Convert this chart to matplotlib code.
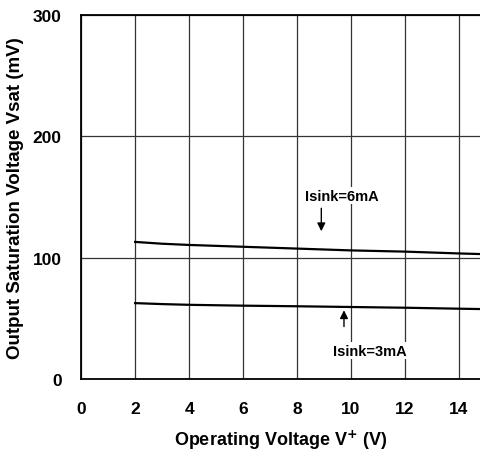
import matplotlib.pyplot as plt

plt.rcParams['font.family'] = ['Liberation Sans', 'DejaVu Sans']
plt.rcParams['font.weight'] = 'bold'

# curve data
v_supply = [2, 3, 4, 6, 8, 10, 12, 14, 14.8]
vsat_6ma = [113, 111.5, 110.5, 109, 107.5, 106, 105, 103.5, 103]
vsat_3ma = [62.6, 61.8, 61.2, 60.5, 60, 59.4, 58.8, 58, 57.7]

x_ticks = [0, 2, 4, 6, 8, 10, 12, 14]
y_ticks = [0, 100, 200, 300]

fig = plt.figure(figsize=(4.8, 4.52), dpi=100)
ax = fig.add_axes([0.169, 0.159, 0.831, 0.806])

ax.plot(v_supply, vsat_6ma, color='black', lw=1.6, zorder=3)
ax.plot(v_supply, vsat_3ma, color='black', lw=1.6, zorder=3)

ax.set_xlim(0, 14.78)
ax.set_ylim(0, 300)
ax.set_xticks(x_ticks)
ax.set_yticks(y_ticks)
ax.grid(True, color='#333333', lw=0.9)
ax.tick_params(length=0, labelsize=12.5)
ax.tick_params(axis='x', pad=16)
ax.tick_params(axis='y', pad=14)
for lbl in ax.get_xticklabels() + ax.get_yticklabels():
    lbl.set_fontweight('bold')
for s in ['left', 'bottom', 'top']:
    ax.spines[s].set_linewidth(1.3)
ax.spines['right'].set_visible(False)

ax.set_xlabel('Operating Voltage V$^\\mathbf{+}$ (V)', fontsize=13, fontweight='bold', labelpad=8)
ax.set_ylabel('Output Saturation Voltage Vsat (mV)', fontsize=13.5, fontweight='bold', labelpad=6)

box = dict(facecolor='white', edgecolor='none', pad=1)
ax.text(9.66, 151, 'Isink=6mA', ha='center', va='center', fontsize=10.5, fontweight='bold', bbox=box, zorder=4)
ax.text(10.7, 23.3, 'Isink=3mA', ha='center', va='center', fontsize=10.5, fontweight='bold', bbox=box, zorder=4)
ax.annotate('', xy=(8.9, 119.5), xytext=(8.9, 143),
            arrowprops=dict(arrowstyle='-|>', color='black', lw=1, mutation_scale=12), zorder=4)
ax.annotate('', xy=(9.74, 59), xytext=(9.74, 41),
            arrowprops=dict(arrowstyle='-|>', color='black', lw=1, mutation_scale=12), zorder=4)

fig.savefig('out.png', dpi=100)
